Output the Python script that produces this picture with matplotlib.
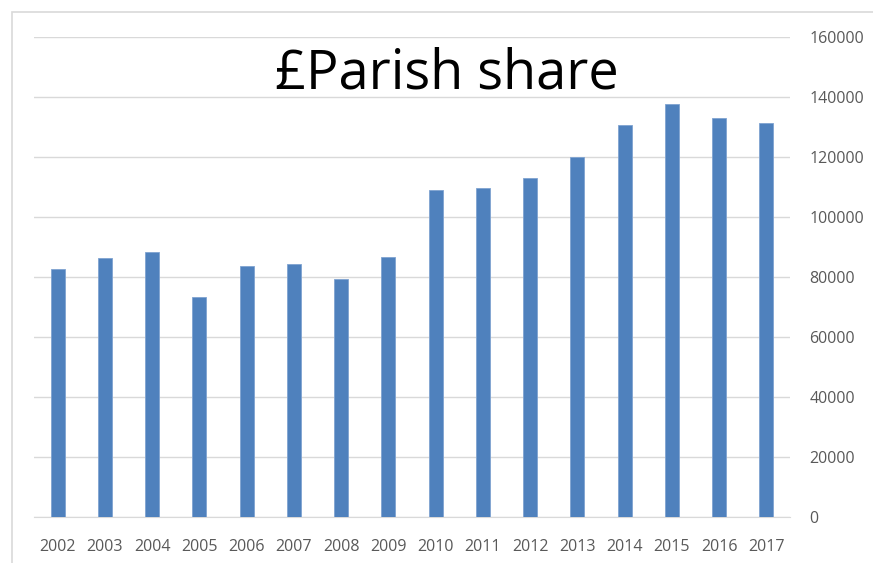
import matplotlib.pyplot as plt
from matplotlib.patches import Rectangle

years = ['2002', '2003', '2004', '2005', '2006', '2007', '2008', '2009',
         '2010', '2011', '2012', '2013', '2014', '2015', '2016', '2017']
share = [82700, 86300, 88300, 73300, 83700, 84300, 79300, 86700,
         109000, 109700, 113000, 120000, 130700, 137700, 133000, 131300]
yticks = [0, 20000, 40000, 60000, 80000, 100000, 120000, 140000, 160000]

plt.rcParams['font.family'] = ['Open Sans', 'DejaVu Sans']

fig = plt.figure(figsize=(8.73, 5.63), dpi=100)
ax = fig.add_axes([34/873, 1 - 517/563, (790-34)/873, (517-37)/563])

x = range(len(years))
ax.bar(x, share, width=0.3, color='#4F81BD', edgecolor='#7FA3D1', linewidth=0.6, zorder=3)

ax.set_xlim(-0.5, len(years) - 0.5)
ax.set_ylim(0, 160000)
ax.set_xticks(list(x))
ax.set_xticklabels(years, fontsize=11.5, color='#595959')
ax.set_yticks(yticks)
ax.set_yticklabels([str(v) for v in yticks], fontsize=11.5, color='#595959')
ax.yaxis.tick_right()
ax.tick_params(length=0)
ax.tick_params(axis='y', pad=14)
ax.tick_params(axis='x', pad=16)
ax.grid(axis='y', color='#D9D9D9', linewidth=1, zorder=0)
for s in ['top', 'left', 'right']:
    ax.spines[s].set_visible(False)
ax.spines['bottom'].set_color('#D9D9D9')

# outer chart border
fig.patches.append(Rectangle((12/873, -0.01), 1.0, 1 - 12/563 + 0.01, transform=fig.transFigure,
                             fill=False, edgecolor='#D9D9D9', linewidth=1.2))

fig.text(447/873, 1 - 74/563, '£Parish share', fontsize=39, ha='center', va='center', color='black')

fig.savefig('out.png', dpi=100)
